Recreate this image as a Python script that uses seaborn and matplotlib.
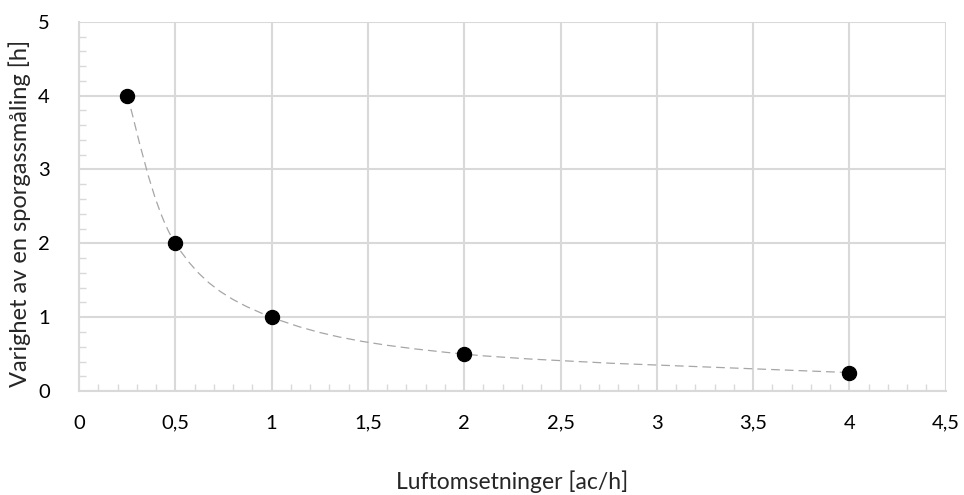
import numpy as np
import matplotlib
matplotlib.use("Agg")
import matplotlib.pyplot as plt
import seaborn as sns
from matplotlib.path import Path
from matplotlib.patches import PathPatch
from matplotlib.ticker import MultipleLocator, FuncFormatter

# data
air_changes = [0.25, 0.5, 1, 2, 4]          # ac/h
duration = [4, 2, 1, 0.5, 0.25]             # h
x_label = "Luftomsetninger [ac/h]"
y_label = "Varighet av en sporgassmåling [h]"

sns.set_theme(style="white")
plt.rcParams["font.family"] = ["Lato", "DejaVu Sans"]

fig = plt.figure(figsize=(9.64, 4.95), dpi=100)
ax = fig.add_axes([0.082, 0.21, 0.899, 0.746])

grid_c = "#d9d9d9"

# smooth dashed line (Catmull-Rom as cubic Bezier, like Excel's smoothed line)
pts = np.column_stack([air_changes, duration]).astype(float)
verts = [tuple(pts[0])]
codes = [Path.MOVETO]
n = len(pts)
for i in range(n - 1):
    p0 = pts[i - 1] if i > 0 else pts[i]
    p1 = pts[i]
    p2 = pts[i + 1]
    p3 = pts[i + 2] if i + 2 < n else pts[i + 1]
    c1 = p1 + (p2 - p0) / 6.0
    c2 = p2 - (p3 - p1) / 6.0
    verts += [tuple(c1), tuple(c2), tuple(p2)]
    codes += [Path.CURVE4] * 3
patch = PathPatch(Path(verts, codes), facecolor="none", edgecolor="#a6a6a6",
                  lw=0.9, linestyle=(0, (7, 4)), zorder=2)
ax.add_patch(patch)

sns.scatterplot(x=air_changes, y=duration, ax=ax, s=105, color="black",
                edgecolor="black", zorder=3)

ax.set_xlim(0, 4.5)
ax.set_ylim(0, 5)
ax.xaxis.set_major_locator(MultipleLocator(0.5))
ax.xaxis.set_minor_locator(MultipleLocator(0.1))
ax.yaxis.set_major_locator(MultipleLocator(1))
ax.yaxis.set_minor_locator(MultipleLocator(0.2))

fmt = FuncFormatter(lambda v, p: f"{v:g}".replace(".", ","))
ax.xaxis.set_major_formatter(fmt)
ax.yaxis.set_major_formatter(fmt)

ax.grid(True, which="major", color=grid_c, lw=1.5)
ax.set_axisbelow(True)
for s in ["top", "right"]:
    ax.spines[s].set_visible(False)
for s in ["left", "bottom"]:
    ax.spines[s].set_color(grid_c)
    ax.spines[s].set_linewidth(1.5)

ax.tick_params(which="major", length=0, labelsize=14.5, colors="black")
ax.tick_params(axis="x", which="major", pad=17)
ax.tick_params(axis="y", which="major", pad=21)
ax.tick_params(which="minor", direction="in", length=5, width=1, color=grid_c)
ax.tick_params(which="minor", bottom=True, left=True)

ax.set_xlabel(x_label, fontsize=16.5, labelpad=28)
ax.set_ylabel(y_label, fontsize=17, labelpad=5)
ax.yaxis.label.set_y(0.48)

fig.savefig("out.png", dpi=100)
